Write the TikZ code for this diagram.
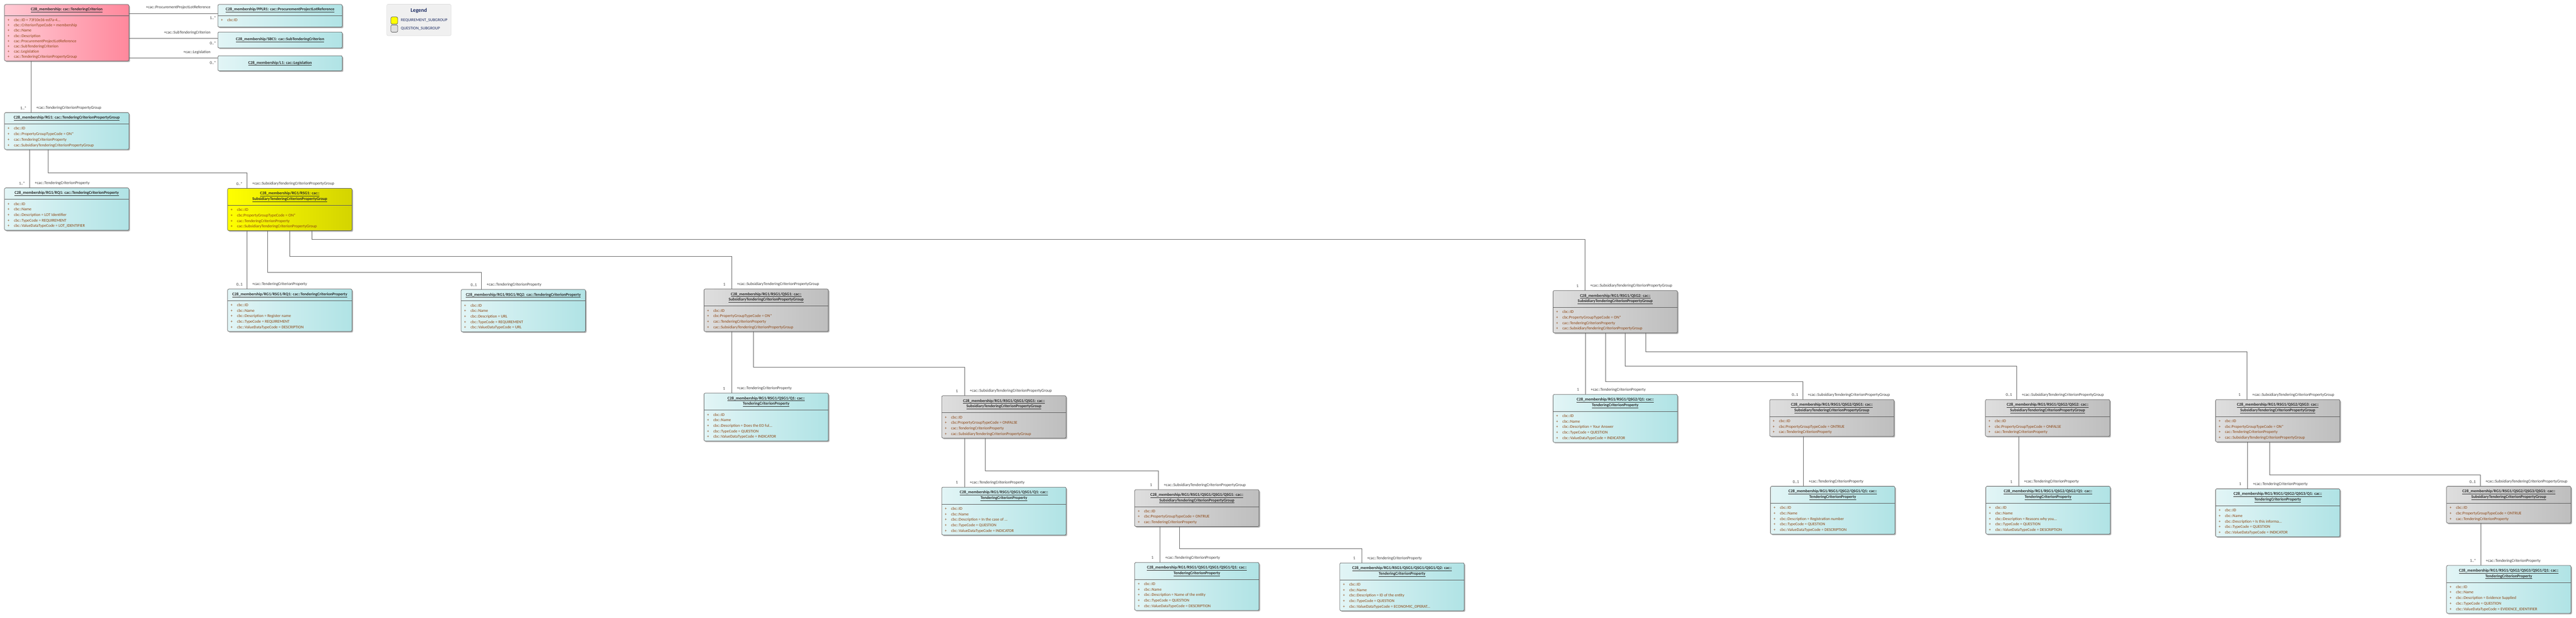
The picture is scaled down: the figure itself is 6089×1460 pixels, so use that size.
\documentclass[tikz,border=0pt]{standalone}
\usepackage{fontspec}
\setmainfont{Carlito}
\usetikzlibrary{shadows}

\definecolor{attrtext}{RGB}{140,70,20}
\definecolor{titletext}{RGB}{40,40,40}
\definecolor{labeltext}{RGB}{60,60,60}
\definecolor{objedge}{RGB}{90,90,90}
\definecolor{connline}{RGB}{100,100,100}
\definecolor{cyanL}{RGB}{226,245,246}
\definecolor{cyanR}{RGB}{176,227,229}
\definecolor{pinkL}{RGB}{255,202,212}
\definecolor{pinkR}{RGB}{255,136,156}
\definecolor{yellowL}{RGB}{255,255,0}
\definecolor{yellowR}{RGB}{212,212,0}
\definecolor{grayL}{RGB}{222,222,222}
\definecolor{grayR}{RGB}{190,190,190}
\definecolor{legendbg}{RGB}{240,240,240}
\definecolor{legendedge}{RGB}{205,205,205}
\definecolor{legendtext}{RGB}{30,45,100}

\newcommand{\umlattr}[1]{\makebox[15pt][l]{+}#1}
\newcommand{\umlobj}[8][cyanobj]{%
  \node[objbox,#1,minimum height=#6,anchor=north west] (#2) at (#3,#4) {};
  \draw[objline] ([yshift=-#5]#2.north west) -- ([yshift=-#5]#2.north east);
  \node[objtitle] (#2-title) at ([yshift=-#5/2]#2.north) {#7};
  \node[objattr] (#2-attr) at ([yshift=-#5]#2.north west) {#8};
}

\begin{document}
\begin{tikzpicture}[x=1pt,y=-1pt,
  objbox/.style={draw=objedge,line width=0.9pt,rounded corners=3pt,minimum width=294pt,
    inner sep=0pt,outer sep=0pt,
    drop shadow={shadow xshift=2.5pt,shadow yshift=-2.5pt,opacity=.3,fill=black}},
  cyanobj/.style={left color=cyanL,right color=cyanR},
  pinkobj/.style={left color=pinkL,right color=pinkR},
  yellowobj/.style={left color=yellowL,right color=yellowR},
  grayobj/.style={left color=grayL,right color=grayR},
  objline/.style={draw=objedge,line width=0.9pt},
  objtitle/.style={font=\fontsize{9.7}{13}\selectfont\bfseries,text=titletext,align=center,inner sep=0pt},
  objattr/.style={anchor=north west,font=\fontsize{9.6}{13}\selectfont,text=attrtext,align=left,
    inner xsep=7pt,inner ysep=7pt},
  conn/.style={draw=connline,line width=0.9pt},
  role/.style={font=\fontsize{9.6}{12}\selectfont,text=labeltext,inner sep=0pt,anchor=west,xshift=12pt,yshift=11pt},
  mult/.style={font=\fontsize{9.6}{12}\selectfont,text=labeltext,inner sep=0pt,anchor=center,xshift=-18pt,yshift=11pt},
  hrole/.style={font=\fontsize{9.6}{12}\selectfont,text=labeltext,inner sep=0pt,anchor=east,xshift=-17pt,yshift=13.5pt},
  hmult/.style={font=\fontsize{9.6}{12}\selectfont,text=labeltext,inner sep=0pt,anchor=east,xshift=-4pt,yshift=-11pt},
  legendkey/.style={draw=objedge,line width=0.9pt,rounded corners=3pt,minimum width=16pt,minimum height=17pt,inner sep=0pt},
  legendentry/.style={font=\fontsize{9.8}{12}\selectfont,text=legendtext,anchor=west,inner sep=0pt,xshift=7pt}]

\fill[white] (0,0) rectangle (6089,1460);
\useasboundingbox (0,0) rectangle (6089,1460);

\begin{scope}[objattr/.append style={font=\fontsize{9.6}{12.4}\selectfont}]
\umlobj[pinkobj]{tc}{10.7}{10.7}{26}{133.3}{\underline{C28\_membership: cac::TenderingCriterion}}{\umlattr{cbc::ID = 73f10e36-ed7a-4...}\\\umlattr{cbc::CriterionTypeCode = membership}\\\umlattr{cbc::Name}\\\umlattr{cbc::Description}\\\umlattr{cac::ProcurementProjectLotReference}\\\umlattr{cac::SubTenderingCriterion}\\\umlattr{cac::Legislation}\\\umlattr{cac::TenderingCriterionPropertyGroup}}
\end{scope}

\umlobj{pplr}{515}{10.7}{26.5}{53.3}{\underline{C28\_membership/PPLR1: cac::ProcurementProjectLotReference}}{\umlattr{cbc:ID}}
\node[objbox,cyanobj,minimum height=37.6,anchor=north west,font=\fontsize{9.7}{13}\selectfont\bfseries,text=titletext] (sbc) at (515,75.7) {\underline{C28\_membership/SBC1: cac::SubTenderingCriterion}};
\node[objbox,cyanobj,minimum height=35.6,anchor=north west,font=\fontsize{9.7}{13}\selectfont\bfseries,text=titletext] (leg) at (515,131.7) {\underline{C28\_membership/L1: cac::Legislation}};

\node[draw=legendedge,fill=legendbg,rounded corners=3pt,minimum width=152pt,minimum height=74pt,inner sep=0pt,anchor=north west] (legend) at (914,10) {};
\node[font=\fontsize{13}{15}\selectfont\bfseries,text=legendtext] (legend-title) at (990,25) {Legend};
\node[legendkey,fill=yellowL] (key-req) at (932,48.5) {};
\node[legendkey,fill=grayL] (key-qsg) at (932,67.5) {};
\node[legendentry] (key-req-text) at (key-req.east) {REQUIREMENT\_SUBGROUP};
\node[legendentry] (key-qsg-text) at (key-qsg.east) {QUESTION\_SUBGROUP};

\umlobj{rg}{10.7}{266}{27}{87}{\underline{C28\_membership/RG1: cac::TenderingCriterionPropertyGroup}}{\umlattr{cbc::ID}\\\umlattr{cbc::PropertyGroupTypeCode = ON*}\\\umlattr{cac::TenderingCriterionProperty}\\\umlattr{cac::SubsidiaryTenderingCriterionPropertyGroup}}
\umlobj{rq}{10.7}{444}{27}{100}{\underline{C28\_membership/RG1/RQ1: cac::TenderingCriterionProperty}}{\umlattr{cbc::ID}\\\umlattr{cbc::Name}\\\umlattr{cbc::Description = LOT Identifier}\\\umlattr{cbc::TypeCode = REQUIREMENT}\\\umlattr{cbc::ValueDataTypeCode = LOT\_IDENTIFIER}}
\umlobj[yellowobj]{rsg}{538}{445}{40}{100}{\underline{C28\_membership/RG1/RSG1: cac::}\\\underline{SubsidiaryTenderingCriterionPropertyGroup}}{\umlattr{cbc::ID}\\\umlattr{cbc:PropertyGroupTypeCode = ON*}\\\umlattr{cac::TenderingCriterionProperty}\\\umlattr{cac::SubsidiaryTenderingCriterionPropertyGroup}}

\umlobj{rsgq1}{538}{683}{27}{100}{\underline{C28\_membership/RG1/RSG1/RQ1: cac::TenderingCriterionProperty}}{\umlattr{cbc::ID}\\\umlattr{cbc::Name}\\\umlattr{cbc::Description = Register name}\\\umlattr{cbc::TypeCode = REQUIREMENT}\\\umlattr{cbc::ValueDataTypeCode = DESCRIPTION}}
\umlobj{rsgq2}{1090}{684}{27}{100}{\underline{C28\_membership/RG1/RSG1/RQ2: cac::TenderingCriterionProperty}}{\umlattr{cbc::ID}\\\umlattr{cbc::Name}\\\umlattr{cbc::Description = URL}\\\umlattr{cbc::TypeCode = REQUIREMENT}\\\umlattr{cbc::ValueDataTypeCode = URL}}
\umlobj[grayobj]{qsg1}{1664}{683}{40}{100}{\underline{C28\_membership/RG1/RSG1/QSG1: cac::}\\\underline{SubsidiaryTenderingCriterionPropertyGroup}}{\umlattr{cbc::ID}\\\umlattr{cbc:PropertyGroupTypeCode = ON*}\\\umlattr{cac::TenderingCriterionProperty}\\\umlattr{cac::SubsidiaryTenderingCriterionPropertyGroup}}
\umlobj{qsg1q1}{1664}{929}{40}{113}{\underline{C28\_membership/RG1/RSG1/QSG1/Q1: cac::}\\\underline{TenderingCriterionProperty}}{\umlattr{cbc::ID}\\\umlattr{cbc::Name}\\\umlattr{cbc::Description = Does the EO ful...}\\\umlattr{cbc::TypeCode = QUESTION}\\\umlattr{cbc::ValueDataTypeCode = INDICATOR}}
\umlobj[grayobj]{qsg11}{2226}{935}{40}{100}{\underline{C28\_membership/RG1/RSG1/QSG1/QSG1: cac::}\\\underline{SubsidiaryTenderingCriterionPropertyGroup}}{\umlattr{cbc::ID}\\\umlattr{cbc:PropertyGroupTypeCode = ONFALSE}\\\umlattr{cac::TenderingCriterionProperty}\\\umlattr{cac::SubsidiaryTenderingCriterionPropertyGroup}}
\umlobj{qsg11q1}{2226}{1151}{40}{113}{\underline{C28\_membership/RG1/RSG1/QSG1/QSG1/Q1: cac::}\\\underline{TenderingCriterionProperty}}{\umlattr{cbc::ID}\\\umlattr{cbc::Name}\\\umlattr{cbc::Description = In the case of ...}\\\umlattr{cbc::TypeCode = QUESTION}\\\umlattr{cbc::ValueDataTypeCode = INDICATOR}}
\umlobj[grayobj]{qsg111}{2682}{1157}{40}{87}{\underline{C28\_membership/RG1/RSG1/QSG1/QSG1/QSG1: cac::}\\\underline{SubsidiaryTenderingCriterionPropertyGroup}}{\umlattr{cbc::ID}\\\umlattr{cbc:PropertyGroupTypeCode = ONTRUE}\\\umlattr{cac::TenderingCriterionProperty}}
\umlobj{qsg111q1}{2682}{1329}{40}{113}{\underline{C28\_membership/RG1/RSG1/QSG1/QSG1/QSG1/Q1: cac::}\\\underline{TenderingCriterionProperty}}{\umlattr{cbc::ID}\\\umlattr{cbc::Name}\\\umlattr{cbc::Description = Name of the entity}\\\umlattr{cbc::TypeCode = QUESTION}\\\umlattr{cbc::ValueDataTypeCode = DESCRIPTION}}
\umlobj{qsg111q2}{3167}{1330}{40}{113}{\underline{C28\_membership/RG1/RSG1/QSG1/QSG1/QSG1/Q2: cac::}\\\underline{TenderingCriterionProperty}}{\umlattr{cbc::ID}\\\umlattr{cbc::Name}\\\umlattr{cbc::Description = ID of the entity}\\\umlattr{cbc::TypeCode = QUESTION}\\\umlattr{cbc::ValueDataTypeCode = ECONOMIC\_OPERAT...}}

\umlobj[grayobj]{qsg2}{3671}{686.5}{40}{100}{\underline{C28\_membership/RG1/RSG1/QSG2: cac::}\\\underline{SubsidiaryTenderingCriterionPropertyGroup}}{\umlattr{cbc::ID}\\\umlattr{cbc:PropertyGroupTypeCode = ON*}\\\umlattr{cac::TenderingCriterionProperty}\\\umlattr{cac::SubsidiaryTenderingCriterionPropertyGroup}}
\umlobj{qsg2q1}{3671}{932}{40}{113}{\underline{C28\_membership/RG1/RSG1/QSG2/Q1: cac::}\\\underline{TenderingCriterionProperty}}{\umlattr{cbc::ID}\\\umlattr{cbc::Name}\\\umlattr{cbc::Description = Your Answer}\\\umlattr{cbc::TypeCode = QUESTION}\\\umlattr{cbc::ValueDataTypeCode = INDICATOR}}
\umlobj[grayobj]{qsg21}{4183}{944}{40}{87}{\underline{C28\_membership/RG1/RSG1/QSG2/QSG1: cac::}\\\underline{SubsidiaryTenderingCriterionPropertyGroup}}{\umlattr{cbc::ID}\\\umlattr{cbc:PropertyGroupTypeCode = ONTRUE}\\\umlattr{cac::TenderingCriterionProperty}}
\umlobj{qsg21q1}{4185}{1149}{40}{113}{\underline{C28\_membership/RG1/RSG1/QSG2/QSG1/Q1: cac::}\\\underline{TenderingCriterionProperty}}{\umlattr{cbc::ID}\\\umlattr{cbc::Name}\\\umlattr{cbc::Description = Registration number}\\\umlattr{cbc::TypeCode = QUESTION}\\\umlattr{cbc::ValueDataTypeCode = DESCRIPTION}}
\umlobj[grayobj]{qsg22}{4693}{944}{40}{87}{\underline{C28\_membership/RG1/RSG1/QSG2/QSG2: cac::}\\\underline{SubsidiaryTenderingCriterionPropertyGroup}}{\umlattr{cbc::ID}\\\umlattr{cbc:PropertyGroupTypeCode = ONFALSE}\\\umlattr{cac::TenderingCriterionProperty}}
\umlobj{qsg22q1}{4694}{1149}{40}{113}{\underline{C28\_membership/RG1/RSG1/QSG2/QSG2/Q1: cac::}\\\underline{TenderingCriterionProperty}}{\umlattr{cbc::ID}\\\umlattr{cbc::Name}\\\umlattr{cbc::Description = Reasons why you...}\\\umlattr{cbc::TypeCode = QUESTION}\\\umlattr{cbc::ValueDataTypeCode = DESCRIPTION}}
\umlobj[grayobj]{qsg23}{5237}{944}{40}{100}{\underline{C28\_membership/RG1/RSG1/QSG2/QSG3: cac::}\\\underline{SubsidiaryTenderingCriterionPropertyGroup}}{\umlattr{cbc::ID}\\\umlattr{cbc:PropertyGroupTypeCode = ON*}\\\umlattr{cac::TenderingCriterionProperty}\\\umlattr{cac::SubsidiaryTenderingCriterionPropertyGroup}}
\umlobj{qsg23q1}{5237}{1155}{40}{113}{\underline{C28\_membership/RG1/RSG1/QSG2/QSG3/Q1: cac::}\\\underline{TenderingCriterionProperty}}{\umlattr{cbc::ID}\\\umlattr{cbc::Name}\\\umlattr{cbc::Description = Is this informa...}\\\umlattr{cbc::TypeCode = QUESTION}\\\umlattr{cbc::ValueDataTypeCode = INDICATOR}}
\umlobj[grayobj]{qsg231}{5783}{1149}{40}{87}{\underline{C28\_membership/RG1/RSG1/QSG2/QSG3/QSG1: cac::}\\\underline{SubsidiaryTenderingCriterionPropertyGroup}}{\umlattr{cbc::ID}\\\umlattr{cbc:PropertyGroupTypeCode = ONTRUE}\\\umlattr{cac::TenderingCriterionProperty}}
\umlobj{qsg231q1}{5783}{1336}{40}{113}{\underline{C28\_membership/RG1/RSG1/QSG2/QSG3/QSG1/Q1: cac::}\\\underline{TenderingCriterionProperty}}{\umlattr{cbc::ID}\\\umlattr{cbc::Name}\\\umlattr{cbc::Description = Evidence Supplied}\\\umlattr{cbc::TypeCode = QUESTION}\\\umlattr{cbc::ValueDataTypeCode = EVIDENCE\_IDENTIFIER}}

\path ([yshift=-21]pplr.north west) coordinate (pplr-in)
      ([yshift=-15.3]sbc.north west) coordinate (sbc-in)
      ([yshift=-5.3]leg.north west) coordinate (leg-in)
      ([xshift=62.5]rg.north west) coordinate (rg-in)
      ([xshift=59.3]rq.north west) coordinate (rq-in)
      ([xshift=46]rsgq1.north west) coordinate (rsgq1-in)
      ([xshift=65.5]qsg1q1.north west) coordinate (qsg1q1-in)
      ([xshift=54]qsg11q1.north west) coordinate (qsg11q1-in)
      ([xshift=60]qsg111q1.north west) coordinate (qsg111q1-in)
      ([xshift=77]qsg2q1.north west) coordinate (qsg2q1-in)
      ([xshift=78]qsg21q1.north west) coordinate (qsg21q1-in)
      ([xshift=78]qsg22q1.north west) coordinate (qsg22q1-in)
      ([xshift=76]qsg23q1.north west) coordinate (qsg23q1-in)
      ([xshift=80.5]qsg231q1.north west) coordinate (qsg231q1-in);

\draw[conn] (tc.east |- pplr-in) -- (pplr-in) node[hrole] {+cac::ProcurementProjectLotReference} node[hmult] {1..*};
\draw[conn] (tc.east |- sbc-in) -- (sbc-in) node[hrole] {+cac::SubTenderingCriterion} node[hmult] {0..*};
\draw[conn] (tc.east |- leg-in) -- (leg-in) node[hrole] {+cac::Legislation} node[hmult] {0..*};

\draw[conn] (rg-in |- tc.south) -- (rg-in) node[role] {+cac::TenderingCriterionPropertyGroup} node[mult] {1..*};
\draw[conn] (rq-in |- rg.south) -- (rq-in) node[role] {+cac::TenderingCriterionProperty} node[mult] {1..*};
\draw[conn] ([xshift=103.3]rg.south west) -- ++(0,55) -| ([xshift=46]rsg.north west) node[role] {+cac::SubsidiaryTenderingCriterionPropertyGroup} node[mult] {0..*};

\draw[conn] (rsgq1-in |- rsg.south) -- (rsgq1-in) node[role] {+cac::TenderingCriterionProperty} node[mult] {0..1};
\draw[conn] ([xshift=95]rsg.south west) -- ++(0,99) -| ([xshift=48]rsgq2.north west) node[role] {+cac::TenderingCriterionProperty} node[mult] {0..1};
\draw[conn] ([xshift=147]rsg.south west) -- ++(0,61) -| ([xshift=66]qsg1.north west) node[role] {+cac::SubsidiaryTenderingCriterionPropertyGroup} node[mult] {1};
\draw[conn] ([xshift=199.5]rsg.south west) -- ++(0,20) -| ([xshift=75.6]qsg2.north west) node[role] {+cac::SubsidiaryTenderingCriterionPropertyGroup} node[mult] {1};

\draw[conn] (qsg1q1-in |- qsg1.south) -- (qsg1q1-in) node[role] {+cac::TenderingCriterionProperty} node[mult] {1};
\draw[conn] ([xshift=117]qsg1.south west) -- ++(0,85) -| ([xshift=54]qsg11.north west) node[role] {+cac::SubsidiaryTenderingCriterionPropertyGroup} node[mult] {1};
\draw[conn] (qsg11q1-in |- qsg11.south) -- (qsg11q1-in) node[role] {+cac::TenderingCriterionProperty} node[mult] {1};
\draw[conn] ([xshift=103]qsg11.south west) -- ++(0,77.5) -| ([xshift=56.6]qsg111.north west) node[role] {+cac::SubsidiaryTenderingCriterionPropertyGroup} node[mult] {1};
\draw[conn] (qsg111q1-in |- qsg111.south) -- (qsg111q1-in) node[role] {+cac::TenderingCriterionProperty} node[mult] {1};
\draw[conn] ([xshift=106]qsg111.south west) -- ++(0,52) -| ([xshift=52]qsg111q2.north west) node[role] {+cac::TenderingCriterionProperty} node[mult] {1};

\draw[conn] (qsg2q1-in |- qsg2.south) -- (qsg2q1-in) node[role] {+cac::TenderingCriterionProperty} node[mult] {1};
\draw[conn] ([xshift=124]qsg2.south west) -- ++(0,114.5) -| ([xshift=78]qsg21.north west) node[role] {+cac::SubsidiaryTenderingCriterionPropertyGroup} node[mult] {0..1};
\draw[conn] ([xshift=170.5]qsg2.south west) -- ++(0,79) -| ([xshift=73.7]qsg22.north west) node[role] {+cac::SubsidiaryTenderingCriterionPropertyGroup} node[mult] {0..1};
\draw[conn] ([xshift=218.7]qsg2.south west) -- ++(0,44) -| ([xshift=74.5]qsg23.north west) node[role] {+cac::SubsidiaryTenderingCriterionPropertyGroup} node[mult] {1};
\draw[conn] (qsg21q1-in |- qsg21.south) -- (qsg21q1-in) node[role] {+cac::TenderingCriterionProperty} node[mult] {0..1};
\draw[conn] (qsg22q1-in |- qsg22.south) -- (qsg22q1-in) node[role] {+cac::TenderingCriterionProperty} node[mult] {1};
\draw[conn] (qsg23q1-in |- qsg23.south) -- (qsg23q1-in) node[role] {+cac::TenderingCriterionProperty} node[mult] {1};
\draw[conn] ([xshift=128]qsg23.south west) -- ++(0,78.5) -| ([xshift=79.5]qsg231.north west) node[role] {+cac::SubsidiaryTenderingCriterionPropertyGroup} node[mult] {0..1};
\draw[conn] (qsg231q1-in |- qsg231.south) -- (qsg231q1-in) node[role] {+cac::TenderingCriterionProperty} node[mult] {1..*};
\end{tikzpicture}
\end{document}
